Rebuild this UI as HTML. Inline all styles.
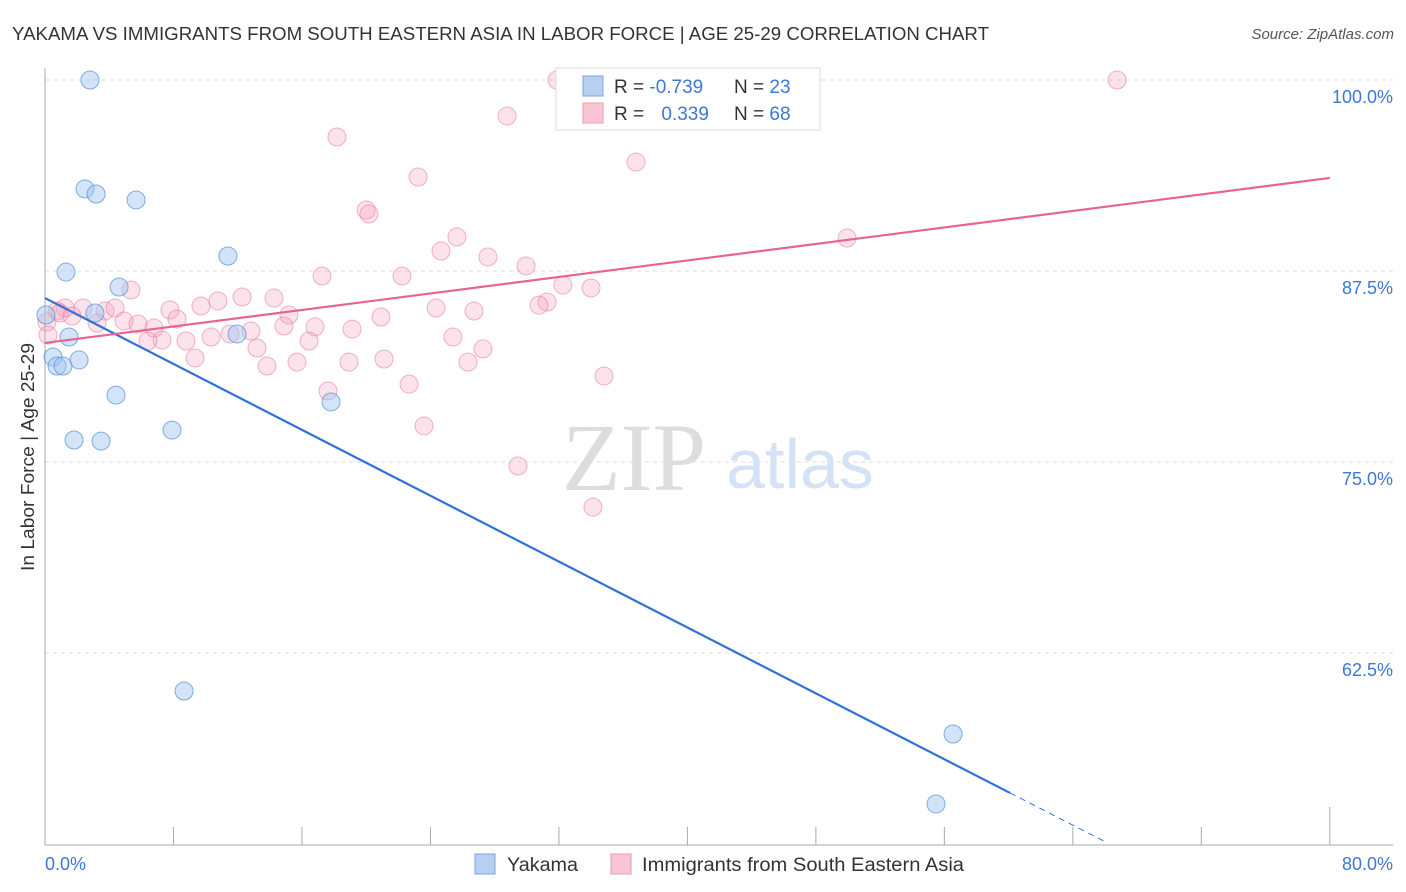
<!DOCTYPE html>
<html><head><meta charset="utf-8"><style>
body{margin:0;background:#fff;font-family:"Liberation Sans",sans-serif;}
svg{display:block}
</style></head><body>
<svg id="chart" width="1406" height="892" viewBox="0 0 1406 892">
<text x="12" y="40" font-size="18" fill="#333" textLength="977" lengthAdjust="spacingAndGlyphs">YAKAMA VS IMMIGRANTS FROM SOUTH EASTERN ASIA IN LABOR FORCE | AGE 25-29 CORRELATION CHART</text>
<text x="1394" y="39" font-size="15" fill="#555" font-style="italic" text-anchor="end">Source: ZipAtlas.com</text>
<text x="634" y="490" font-size="96" fill="#ddd" font-family="Liberation Serif,serif" text-anchor="middle">ZIP</text>
<text x="800" y="488" font-size="70" fill="#d4e2f5" text-anchor="middle">atlas</text>
<g id="grid"></g><g id="axes"></g><g id="pts"></g><g id="lines"></g>
<text transform="translate(34,457) rotate(-90)" font-size="18" fill="#333" text-anchor="middle" textLength="228" lengthAdjust="spacingAndGlyphs">In Labor Force | Age 25-29</text>
<text x="45" y="870" font-size="18" fill="#3b78d8">0.0%</text>
<text x="1393" y="870" font-size="18" fill="#3b78d8" text-anchor="end">80.0%</text>
<g>
<rect x="556" y="68" width="264" height="62" fill="#fff" stroke="#ddd"/>
<rect x="583" y="76" width="20" height="20" fill="#b7d0f2" stroke="#7aa6e0"/>
<rect x="583" y="103" width="20" height="20" fill="#f9c6d5" stroke="#ec9ab4"/>
<text x="614" y="93" font-size="19" fill="#333">R = <tspan fill="#3b78d8">-0.739</tspan></text>
<text x="734" y="93" font-size="19" fill="#333">N = <tspan fill="#3b78d8">23</tspan></text>
<text x="614" y="120" font-size="19" fill="#333">R = <tspan fill="#3b78d8" dx="12">0.339</tspan></text>
<text x="734" y="120" font-size="19" fill="#333">N = <tspan fill="#3b78d8">68</tspan></text>
</g>
<g>
<rect x="475" y="854" width="20" height="20" fill="#b7d0f2" stroke="#7aa6e0"/>
<text x="507" y="871" font-size="19" fill="#333" textLength="71" lengthAdjust="spacingAndGlyphs">Yakama</text>
<rect x="611" y="854" width="20" height="20" fill="#f9c6d5" stroke="#ec9ab4"/>
<text x="642" y="871" font-size="19" fill="#333" textLength="322" lengthAdjust="spacingAndGlyphs">Immigrants from South Eastern Asia</text>
</g>
</svg>
<script>
const yTicks=[100,87.5,75,62.5];
const yTickLabels=["100.0%","87.5%","75.0%","62.5%"];
const xTicks=[0,8,16,24,32,40,48,56,64,72,80];
const blueX=[2.8,2.49,3.18,5.67,11.39,1.31,4.61,11.96,3.11,0.06,1.49,0.5,2.12,0.75,1.12,4.42,17.81,7.91,1.81,3.49,8.66,56.54,55.48];
const blueY=[100,92.87,92.54,92.15,88.48,87.43,86.45,83.38,84.75,84.62,83.18,81.87,81.68,81.28,81.28,79.38,78.93,77.09,76.44,76.37,60.01,57.2,52.62];
const pinkX=[31.88,66.75,28.77,18.18,36.8,23.23,20.0,20.17,25.65,24.66,27.58,49.94,29.95,17.25,22.23,5.35,32.25,34.0,12.27,10.77,14.26,31.26,30.76,24.35,26.71,1.25,0.75,2.37,3.74,4.36,7.78,9.71,8.22,15.19,20.92,4.92,5.79,6.79,3.24,12.83,14.88,16.81,19.12,25.4,11.52,10.34,8.78,7.29,6.41,16.44,13.2,27.27,9.34,15.69,18.93,21.11,26.34,13.82,22.67,17.62,34.81,23.6,29.45,34.12,0.12,0.19,0.93,1.68];
const pinkY=[100,100,97.64,96.27,94.63,93.65,91.49,91.23,89.73,88.81,88.42,89.66,87.83,87.17,87.17,86.26,86.58,86.39,85.8,85.54,85.73,85.47,85.27,85.08,84.88,85.08,84.88,85.08,84.88,85.08,84.95,85.21,84.36,84.62,84.49,84.23,84.03,83.77,84.1,83.57,83.9,83.84,83.7,83.18,83.38,83.18,82.92,82.98,82.92,82.92,82.46,82.4,81.81,81.54,81.54,81.74,81.54,81.28,80.1,79.65,80.63,77.36,74.74,72.05,84.16,83.31,84.75,84.55];
const blueTrend=[85.73,-0.539];
const pinkTrend=[82.79,0.135];
const NS="http://www.w3.org/2000/svg";
const sx=v=>45+v*16.06, sy=v=>80+(100-v)*15.28;
function mk(p,t,a){const e=document.createElementNS(NS,t);for(const k in a)e.setAttribute(k,a[k]);document.getElementById(p).appendChild(e);return e;}
yTicks.forEach((t,i)=>{
 const g=mk('grid','line',{x1:45,x2:1393,y1:sy(t),y2:sy(t),stroke:'#ddd','stroke-dasharray':'4,4'});
 
 
 const l=mk('grid','text',{x:1393,y:sy(t)+23,'font-size':18,fill:'#3b78d8','text-anchor':'end'});
 l.textContent=yTickLabels[i];
 
 
});
const ax=mk('axes','line',{x1:45,x2:1393,y1:845,y2:845,stroke:'#aaa'});


const ay=mk('axes','line',{x1:45,x2:45,y1:68,y2:845,stroke:'#aaa'});


xTicks.forEach((t,i)=>{
 const k=mk('axes','line',{x1:sx(t),x2:sx(t),y1:i==xTicks.length-1?807:827,y2:845,stroke:'#aaa'});
 
 
});
pinkX.forEach((x,i)=>{
 const c=mk('pts','circle',{cx:sx(x),cy:sy(pinkY[i]),r:9,fill:'rgba(244,160,188,0.3)',stroke:'rgba(230,120,155,0.55)'});
 
 
});
blueX.forEach((x,i)=>{
 const c=mk('pts','circle',{cx:sx(x),cy:sy(blueY[i]),r:9,fill:'rgba(160,196,240,0.45)',stroke:'rgba(80,140,220,0.7)'});
 
 
});
const bEnd=60.09, bDash=65.9;
const bl=mk('lines','line',{x1:sx(0),y1:sy(blueTrend[0]),x2:sx(bEnd),y2:sy(blueTrend[0]+blueTrend[1]*bEnd),stroke:'#2f73d8','stroke-width':2.2});


const bd=mk('lines','line',{x1:sx(bEnd),y1:sy(blueTrend[0]+blueTrend[1]*bEnd),x2:sx(bDash),y2:sy(blueTrend[0]+blueTrend[1]*bDash),stroke:'#2f73d8','stroke-width':1,'stroke-dasharray':'6,5'});


const pl=mk('lines','line',{x1:sx(0),y1:sy(pinkTrend[0]),x2:sx(80),y2:sy(pinkTrend[0]+pinkTrend[1]*80),stroke:'#e8648f','stroke-width':2.2});


</script>
</body></html>
